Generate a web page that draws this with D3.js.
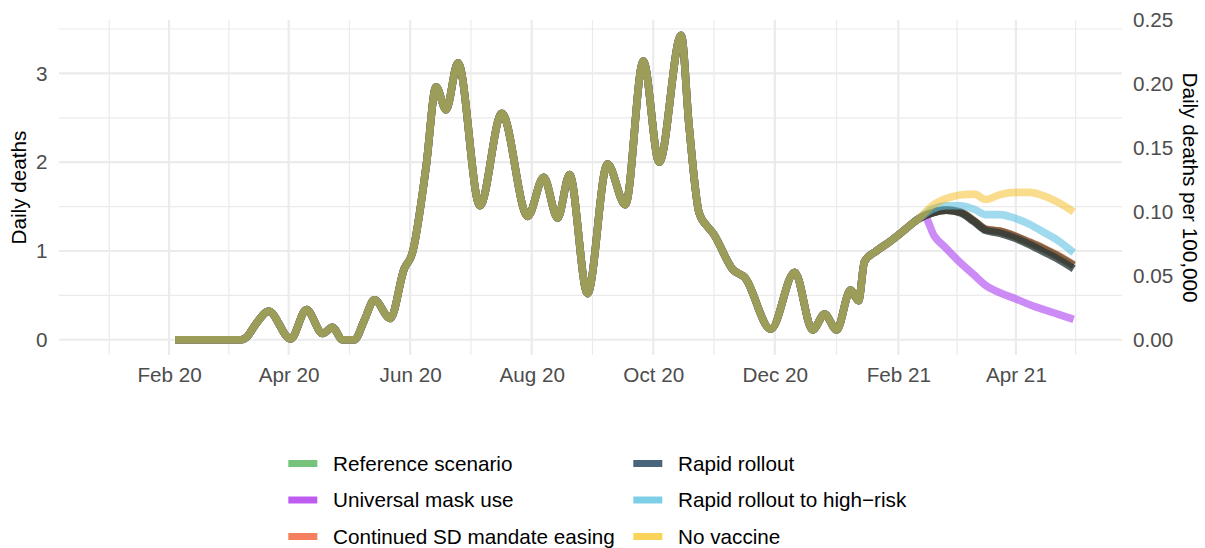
<!DOCTYPE html>
<html>
<head>
<meta charset="utf-8">
<script src="https://cdn.jsdelivr.net/npm/d3@7"></script>
<style>
  html, body { margin: 0; padding: 0; background: #ffffff; }
  svg { display: block; }
  text { font-family: "Liberation Sans", Arial, Helvetica, sans-serif; }
</style>
</head>
<body>
<svg id="chart" width="1205" height="548"></svg>
<script>
// ---- Data ---------------------------------------------------------------
const scenarios = [
  "Reference scenario",
  "Universal mask use",
  "Continued SD mandate easing",
  "Rapid rollout",
  "Rapid rollout to high\u2212risk",
  "No vaccine"
];

// Observed (smoothed) daily deaths, shared by every scenario
const historyDates = [
  "2020-02-04","2020-03-08","2020-03-11","2020-03-15","2020-03-22","2020-04-02",
  "2020-04-10","2020-04-18","2020-04-23","2020-04-28","2020-05-04","2020-05-09",
  "2020-05-14","2020-05-22","2020-05-29","2020-06-02","2020-06-09","2020-06-14",
  "2020-06-19","2020-06-25","2020-07-06","2020-07-17","2020-07-30","2020-08-07",
  "2020-08-14","2020-08-20","2020-08-29","2020-09-08","2020-09-17","2020-09-26",
  "2020-10-04","2020-10-15","2020-10-19","2020-10-24","2020-10-28","2020-10-31",
  "2020-11-10","2020-11-16","2020-11-29","2020-12-11","2020-12-20","2020-12-26",
  "2021-01-01","2021-01-08","2021-01-12","2021-01-15","2021-01-21","2021-01-28",
  "2021-02-01","2021-02-08","2021-02-11"
];
const historyDeaths = [
  0.00, 0.00, 0.03, 0.16, 0.32, 0.01,
  0.34, 0.07, 0.14, 0.00, 0.00, 0.22,
  0.45, 0.24, 0.80, 0.97, 1.95, 2.85,
  2.59, 3.12, 1.51, 2.55, 1.39, 1.83,
  1.37, 1.86, 0.52, 1.98, 1.52, 3.14,
  2.00, 3.43, 2.40, 1.43, 1.28, 1.20,
  0.79, 0.70, 0.12, 0.76, 0.11, 0.29,
  0.11, 0.56, 0.44, 0.88, 1.00, 1.11,
  1.18, 1.31, 1.36
];

// Projections (after the last observed day)
const projDates = [
  "2021-02-18","2021-02-25","2021-03-04","2021-03-11","2021-03-17","2021-03-24",
  "2021-04-01","2021-04-08","2021-04-15","2021-04-22","2021-04-30"
];
const referenceProj     = [1.43, 1.46, 1.44, 1.34, 1.24, 1.22, 1.16, 1.09, 1.02, 0.94, 0.835];
const sdEasingProj      = [1.43, 1.46, 1.44, 1.34, 1.245, 1.225, 1.165, 1.10, 1.03, 0.95, 0.845];
const rapidProj         = [1.43, 1.46, 1.43, 1.33, 1.23, 1.20, 1.14, 1.07, 0.99, 0.91, 0.80];
const highRiskProj      = [1.47, 1.51, 1.51, 1.47, 1.41, 1.41, 1.365, 1.30, 1.21, 1.12, 0.98];
const noVaccineProj     = [1.51, 1.59, 1.63, 1.64, 1.58, 1.635, 1.66, 1.66, 1.62, 1.55, 1.44];
const maskDates = [
  "2021-02-14","2021-02-19","2021-02-25","2021-03-04","2021-03-11","2021-03-17",
  "2021-03-24","2021-04-01","2021-04-08","2021-04-15","2021-04-22","2021-04-30"
];
const maskProj          = [1.39, 1.17, 1.03, 0.87, 0.73, 0.61, 0.53, 0.46, 0.395, 0.34, 0.29, 0.23];

// Study window and axis breaks
const dateLimits = ["2020-01-01", "2021-04-30"];
const xBreaks = ["2020-02-01","2020-04-01","2020-06-01","2020-08-01","2020-10-01","2020-12-01","2021-02-01","2021-04-01"];
const yBreaks = [0, 1, 2, 3];
const yMinorBreaks = [0.5, 1.5, 2.5, 3.5];
const perCapitaBreaks = [0, 0.05, 0.10, 0.15, 0.20, 0.25];
const population = 1440000;

// ---- Styles -------------------------------------------------------------
const keyColors  = ["#76C47C", "#BE5CF0", "#F48060", "#4A647C", "#7ECEE8", "#FAD458"];
const lineColors = ["#286E32", "#B85BF1", "#964628", "#2D3A37", "#61C1E3", "#F2B200"];
const lineAlpha  = [0.7, 0.7, 0.7, 0.8, 0.6, 0.45];

// ---- Layout -------------------------------------------------------------
const panel = { left: 59, right: 1122, top: 20, bottom: 355 };
const fontSize = 20.7;
const parse = d3.timeParse("%Y-%m-%d");

const projections = [
  { dates: projDates, values: referenceProj },
  { dates: maskDates, values: maskProj },
  { dates: projDates, values: sdEasingProj },
  { dates: projDates, values: rapidProj },
  { dates: projDates, values: highRiskProj },
  { dates: projDates, values: noVaccineProj }
];

const history = historyDates.map((d, i) => ({ date: parse(d), value: historyDeaths[i] }));
const series = scenarios.map((name, i) => ({
  name,
  points: history.concat(projections[i].dates.map((d, j) => ({ date: parse(d), value: projections[i].values[j] })))
}));

// ---- Scales (5% expansion on both sides) --------------------------------
const t0 = parse(dateLimits[0]).getTime(), t1 = parse(dateLimits[1]).getTime();
const tPad = (t1 - t0) * 0.05;
const x = d3.scaleTime()
  .domain([new Date(t0 - tPad), new Date(t1 + tPad)])
  .range([panel.left, panel.right]);

const allValues = series.flatMap(s => s.points.map(p => p.value));
const [vMin, vMax] = d3.extent(allValues);
const vPad = (vMax - vMin) * 0.05;
const y = d3.scaleLinear()
  .domain([vMin - vPad, vMax + vPad])
  .range([panel.bottom, panel.top]);
const yRight = d3.scaleLinear()
  .domain(y.domain().map(v => v * 100000 / population))
  .range([panel.bottom, panel.top]);

const svg = d3.select("#chart");
svg.append("rect").attr("width", 1205).attr("height", 548).attr("fill", "#ffffff");

// ---- Grid ---------------------------------------------------------------
const grid = svg.append("g").attr("class", "grid");
const majorDates = xBreaks.map(parse);
const step = majorDates[1] - majorDates[0];
const extendedMajors = [new Date(+majorDates[0] - step)].concat(majorDates, [new Date(+majorDates[majorDates.length - 1] + step)]);
const minorDates = d3.pairs(extendedMajors).map(([a, b]) => new Date((+a + +b) / 2))
  .filter(d => x(d) >= panel.left && x(d) <= panel.right);

grid.selectAll(".hminor").data(yMinorBreaks).join("line")
  .attr("x1", panel.left).attr("x2", panel.right)
  .attr("y1", d => y(d)).attr("y2", d => y(d))
  .attr("stroke", "#EBEBEB").attr("stroke-width", 1.2);
grid.selectAll(".vminor").data(minorDates).join("line")
  .attr("x1", d => x(d)).attr("x2", d => x(d))
  .attr("y1", panel.top).attr("y2", panel.bottom)
  .attr("stroke", "#EBEBEB").attr("stroke-width", 1.2);
grid.selectAll(".hmajor").data(yBreaks).join("line")
  .attr("x1", panel.left).attr("x2", panel.right)
  .attr("y1", d => y(d)).attr("y2", d => y(d))
  .attr("stroke", "#EBEBEB").attr("stroke-width", 2.2);
grid.selectAll(".vmajor").data(majorDates).join("line")
  .attr("x1", d => x(d)).attr("x2", d => x(d))
  .attr("y1", panel.top).attr("y2", panel.bottom)
  .attr("stroke", "#EBEBEB").attr("stroke-width", 2.2);

// ---- Lines --------------------------------------------------------------
const line = d3.line()
  .x(d => x(d.date))
  .y(d => y(d.value))
  .curve(d3.curveMonotoneX);

svg.append("g").selectAll("path").data(series).join("path")
  .attr("d", d => line(d.points))
  .attr("fill", "none")
  .attr("stroke", (d, i) => lineColors[i])
  .attr("stroke-opacity", (d, i) => lineAlpha[i])
  .attr("stroke-width", 7.6)
  .attr("stroke-linecap", "butt")
  .attr("stroke-linejoin", "round");

// ---- Axes ---------------------------------------------------------------
function styleAxis(g) {
  g.select(".domain").remove();
  g.selectAll(".tick line").remove();
  g.selectAll("text")
    .attr("font-size", fontSize)
    .attr("font-family", "Liberation Sans, Arial, sans-serif")
    .attr("fill", "#4D4D4D");
}

svg.append("g")
  .attr("transform", `translate(${panel.left},0)`)
  .call(d3.axisLeft(y).tickValues(yBreaks).tickFormat(d3.format("d")).tickSize(0).tickPadding(11.5))
  .call(styleAxis);

svg.append("g")
  .attr("transform", `translate(${panel.right},0)`)
  .call(d3.axisRight(yRight).tickValues(perCapitaBreaks).tickFormat(d3.format(".2f")).tickSize(0).tickPadding(11))
  .call(styleAxis);

svg.append("g")
  .attr("transform", `translate(0,${panel.bottom})`)
  .call(d3.axisBottom(x).tickValues(majorDates).tickFormat(d3.timeFormat("%b %y")).tickSize(0).tickPadding(12.7))
  .call(styleAxis);

// Axis titles
const midY = (panel.top + panel.bottom) / 2;
svg.append("text")
  .attr("transform", `translate(26,${midY}) rotate(-90)`)
  .attr("text-anchor", "middle")
  .attr("font-size", fontSize)
  .attr("fill", "#000000")
  .text("Daily deaths");
svg.append("text")
  .attr("transform", `translate(1182.5,${midY}) rotate(90)`)
  .attr("text-anchor", "middle")
  .attr("font-size", fontSize)
  .attr("fill", "#000000")
  .text("Daily deaths per 100,000");

// ---- Legend -------------------------------------------------------------
const legendCols = [288.3, 633.3];
const legendRows = [463.5, 500, 536.5];
const legend = svg.append("g").attr("class", "legend");
scenarios.forEach((name, i) => {
  const cx = legendCols[Math.floor(i / 3)];
  const cy = legendRows[i % 3];
  legend.append("line")
    .attr("x1", cx).attr("x2", cx + 29)
    .attr("y1", cy).attr("y2", cy)
    .attr("stroke", keyColors[i])
    .attr("stroke-width", 7);
  legend.append("text")
    .attr("x", cx + 44.7)
    .attr("y", cy)
    .attr("dy", "0.35em")
    .attr("font-size", fontSize)
    .attr("fill", "#000000")
    .text(name);
});
</script>
</body>
</html>
